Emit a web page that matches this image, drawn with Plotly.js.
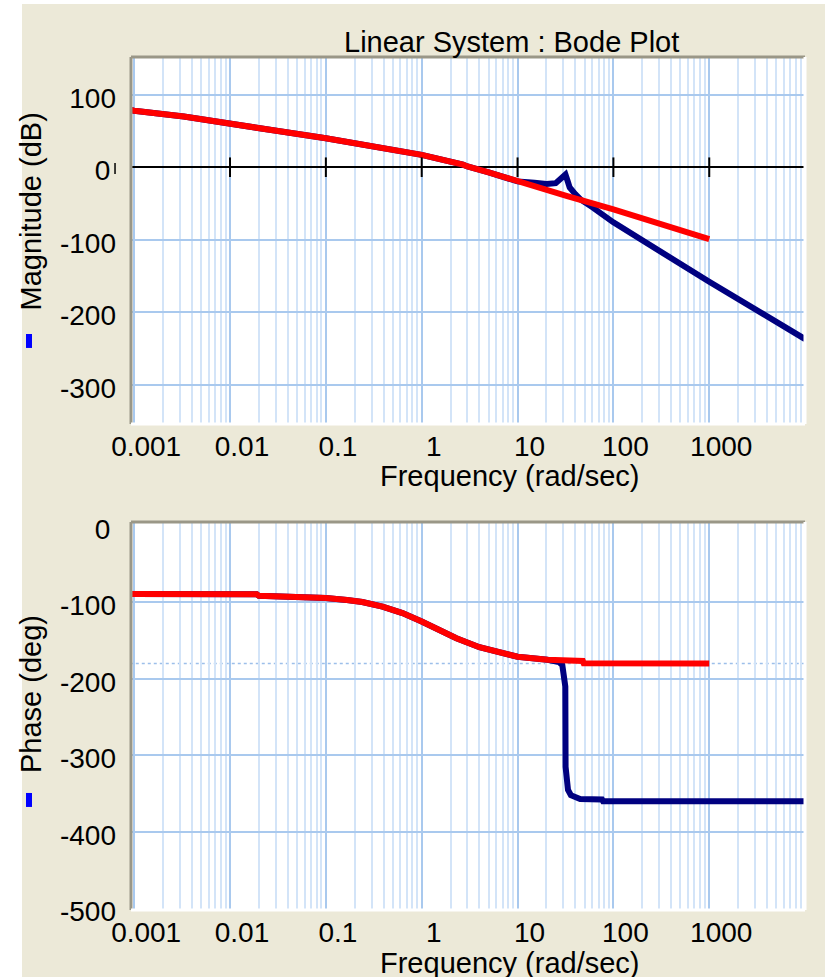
<!DOCTYPE html>
<html><head><meta charset="utf-8">
<script src="https://cdn.plot.ly/plotly-3.0.1.min.js"></script>
<style>
html,body{margin:0;padding:0;background:#ffffff;width:825px;height:977px;overflow:hidden}
#bg{position:absolute;left:22px;top:4px;width:803px;height:973px;background:#ECE9D8}
#chart{position:absolute;left:0;top:0;width:825px;height:977px}
</style>
</head><body><div id="bg"></div><div id="chart"></div>
<script>
// ---- data ----
const magFreqOpen = [0.0009,0.001,0.0033,0.01,0.033,0.1,0.31,1,2.7,3,5,10,20,33,100,1000];
const magOpen     = [79,78,70,61,49.5,40,28,17,3.5,1,-7,-19.5,-30,-40,-58,-99];

const magFreqFull = [0.0009,0.001,0.0033,0.01,0.033,0.1,0.31,1,2.7,3,5,10,15,20,25,28,30,31.6,33.3,35,40,45,60,73.5,100,1000,10000];
const magFull     = [79,78,70,61,49.5,40,28,17,3.5,1,-7,-19.5,-21.5,-23,-22,-17,-12,-10,-19,-28,-37,-44,-55,-64,-76,-158,-237];

const phFreqOpen = [0.0009,0.019,0.02,0.07,0.075,0.1,0.166,0.24,0.39,0.63,1,1.54,2.3,4,6.5,10,20.5,30,48,49,1000];
const phOpen     = [-89,-89.5,-91.5,-92.5,-94,-94.5,-97,-99.5,-105.5,-114,-125,-136,-147,-158.6,-166,-171,-175,-176,-176.5,-179.5,-180];

const phFreqFull = [0.0009,0.019,0.02,0.07,0.075,0.1,0.166,0.24,0.39,0.63,1,1.54,2.3,4,6.5,10,20.5,24,27,29.3,30.5,31.5,31.7,33.6,36,40,45,76,78,10000];
const phFull     = [-89,-89.5,-91.5,-92.5,-94,-94.5,-97,-99.5,-105.5,-114,-125,-136,-147,-158.6,-166,-171,-175,-176,-178,-182,-200,-210,-315,-345,-352,-355,-357,-357.5,-360,-360];

const magTickVals = [-300,-200,-100,0,100];
const magTickText = ['-300','-200','-100','0\u2009','100'];
const phTickVals  = [-500,-400,-300,-200,-100,0];
const phTickText  = ['-500','-400','-300','-200','-100','0\u2009'];
const phGridVals  = [-400,-300,-200,-100];
const zeroTickFreqs = [0.01,0.1,1,10,100,1000];
const zeroTickLevel = [0,0,0,0,0,0];
const phaseRefLevel = -180;

const titleText = 'Linear System : Bode Plot';
const xTitleText = 'Frequency (rad/sec)';
const magTitleText = 'Magnitude (dB)';
const phTitleText = 'Phase (deg)';

// ---- styling ----
const FONT = 'Liberation Sans, Arial, Helvetica, sans-serif';
const NAVY = '#000080', RED = '#FF0000';
const MAJ = '#A9C9EE', MINR = '#D3E4F8';

function xAxis(anchor){
  return {type:'log', range:[-3.033,3.999], anchor:anchor, domain:[0,1],
    tickmode:'linear', tick0:0, dtick:1, exponentformat:'none',
    showgrid:true, gridcolor:MAJ, gridwidth:2,
    minor:{dtick:'D1', showgrid:true, gridcolor:MINR, gridwidth:2, ticks:''},
    ticks:'', showline:false, zeroline:false, fixedrange:true,
    tickfont:{family:FONT,size:28,color:'#000'}, ticklabelshift:12, ticklabelstandoff:3};
}

const traces = [
  {x:magFreqFull, y:magFull, xaxis:'x', yaxis:'y', mode:'lines', line:{color:NAVY,width:6}, hoverinfo:'skip', showlegend:false},
  {x:magFreqOpen, y:magOpen, xaxis:'x', yaxis:'y', mode:'lines', line:{color:RED,width:6}, hoverinfo:'skip', showlegend:false},
  {x:zeroTickFreqs, y:zeroTickLevel, xaxis:'x', yaxis:'y', mode:'markers', marker:{symbol:'line-ns', size:14, color:'#000', line:{color:'#000', width:2}}, hoverinfo:'skip', showlegend:false},
  {x:phFreqFull, y:phFull, xaxis:'x2', yaxis:'y2', mode:'lines', line:{color:NAVY,width:6}, hoverinfo:'skip', showlegend:false},
  {x:phFreqOpen, y:phOpen, xaxis:'x2', yaxis:'y2', mode:'lines', line:{color:RED,width:6}, hoverinfo:'skip', showlegend:false}
];

const topD = [0.5698,1], botD = [0,0.4549];

function frame(yd){
  return [
    {type:'line', xref:'paper', yref:'paper', x0:0, x1:1, y0:yd[1], y1:yd[1], line:{color:'#9A9787', width:3}, layer:'above'},
    {type:'line', xref:'paper', yref:'paper', x0:0, x1:0, y0:yd[0], y1:yd[1], line:{color:'#9A9787', width:3}, layer:'above'},
    {type:'line', xref:'paper', yref:'paper', x0:0, x1:1, y0:yd[0], y1:yd[0], line:{color:'#FFFFFF', width:3}, layer:'above'},
    {type:'line', xref:'paper', yref:'paper', x0:1, x1:1, y0:yd[0], y1:yd[1], line:{color:'#FFFFFF', width:3}, layer:'above'}
  ];
}

const shapes = [].concat(
  [
    {type:'line', xref:'x2', yref:'y2', x0:0.0009, x1:10000, y0:phaseRefLevel, y1:phaseRefLevel, line:{color:'#9DBFEA', width:1.5, dash:'dot'}, layer:'below'}
  ],
  frame(topD), frame(botD),
  [
    {type:'line', xref:'paper', yref:'paper', x0:-0.0237, x1:-0.0237, y0:0.8628, y1:0.8757, line:{color:'#000', width:1.5}},
    {type:'rect', xref:'paper', yref:'paper', x0:-0.1558, x1:-0.1469, y0:0.6589, y1:0.6753, fillcolor:'#0000FF', line:{width:0}},
    {type:'rect', xref:'paper', yref:'paper', x0:-0.1558, x1:-0.1469, y0:0.1208, y1:0.1372, fillcolor:'#0000FF', line:{width:0}}
  ]
);

const annFont = {family:FONT, size:29, color:'#000'};
const annotations = [
  {text:titleText, xref:'paper', yref:'paper', x:0.5645, y:1.0176, xanchor:'center', yanchor:'middle', showarrow:false, font:annFont},
  {text:xTitleText, xref:'paper', yref:'paper', x:0.5623, y:0.5088, xanchor:'center', yanchor:'middle', showarrow:false, font:annFont, borderpad:0},
  {text:xTitleText, xref:'paper', yref:'paper', x:0.5623, y:-0.0621, xanchor:'center', yanchor:'middle', showarrow:false, font:annFont, borderpad:0},
  {text:magTitleText, xref:'paper', yref:'paper', x:-0.1484, y:0.8189, xanchor:'center', yanchor:'middle', textangle:-90, showarrow:false, font:annFont},
  {text:phTitleText, xref:'paper', yref:'paper', x:-0.1484, y:0.2532, xanchor:'center', yanchor:'middle', textangle:-90, showarrow:false, font:annFont}
];

const layout = {
  width:825, height:977,
  margin:{l:131, r:20, t:57, b:67, pad:0},
  paper_bgcolor:'rgba(0,0,0,0)', plot_bgcolor:'#FFFFFF',
  font:{family:FONT, size:28, color:'#000'},
  showlegend:false,
  xaxis: xAxis('y'),
  xaxis2: xAxis('y2'),
  yaxis: {domain:topD, range:[-354,152], anchor:'x', tickmode:'array', tickvals:magTickVals, ticktext:magTickText,
    showgrid:true, gridcolor:MAJ, gridwidth:2, zeroline:true, zerolinecolor:'#000', zerolinewidth:2,
    ticks:'', showline:false, fixedrange:true, tickfont:{family:FONT,size:28,color:'#000'}, ticklabelshift:3, ticklabelstandoff:14},
  yaxis2: {domain:botD, range:[-502,5], anchor:'x2', tickmode:'array', tickvals:phTickVals, ticktext:phTickText,
    showgrid:false, minor:{tickmode:'array', tickvals:phGridVals, showgrid:true, gridcolor:MAJ, gridwidth:2, ticks:''},
    zeroline:false, ticks:'', showline:false, fixedrange:true, tickfont:{family:FONT,size:28,color:'#000'}, ticklabelshift:3, ticklabelstandoff:14},
  shapes: shapes,
  annotations: annotations
};

Plotly.newPlot('chart', traces, layout, {staticPlot:true, displayModeBar:false});
</script></body></html>
